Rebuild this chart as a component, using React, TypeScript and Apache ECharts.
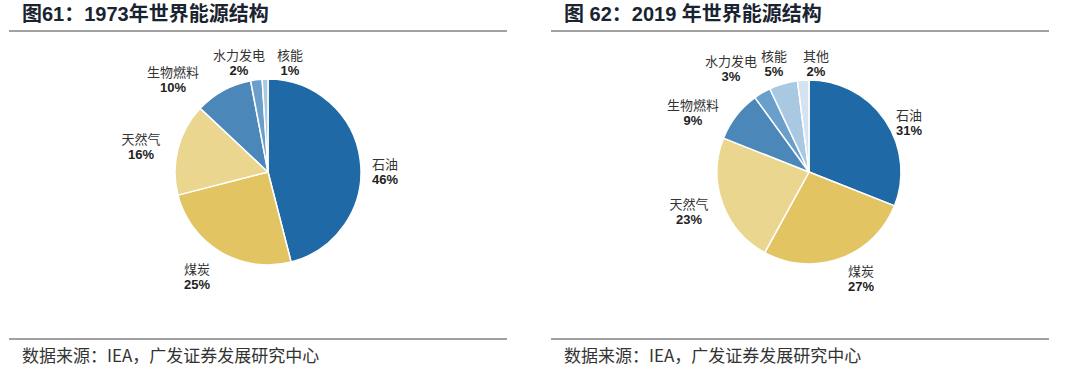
import React, { useEffect, useRef } from "react";
import * as echarts from "echarts";

const names1973 = ["石油", "煤炭", "天然气", "生物燃料", "水力发电", "核能"];
const values1973 = [46, 25, 16, 10, 2, 1];
const names2019 = ["石油", "煤炭", "天然气", "生物燃料", "水力发电", "核能", "其他"];
const values2019 = [31, 27, 23, 9, 3, 5, 2];
const colors = ["#1f6aa6", "#e3c463", "#ead68f", "#4b87b9", "#6b9fcb", "#a9c8e2", "#d5e3f0"];
const titles = ["图61：1973年世界能源结构", "图 62：2019 年世界能源结构"];
const sourceText = "数据来源：IEA，广发证券发展研究中心";

// label anchor positions (layout only), per series, per slice
const labelSpots: number[][][] = [
  [[385, 171], [197, 276], [141, 146], [173, 79], [239, 62], [290, 62]],
  [[909, 122], [861, 278], [689, 211], [693, 112], [731, 68], [774, 63], [816, 63]],
];

function pieSeries(names: string[], values: number[], cx: number, r: number) {
  return {
    type: "pie",
    center: [cx, 172],
    radius: r,
    startAngle: 90,
    clockwise: true,
    avoidLabelOverlap: false,
    itemStyle: { borderColor: "#ffffff", borderWidth: 1.5 },
    label: {
      show: true,
      position: "outside",
      formatter: (p: any) => `{n|${p.name}}\n{p|${p.value}%}`,
      rich: {
        n: { fontFamily: "Noto Sans CJK SC", fontSize: 13, color: "#333", lineHeight: 16, align: "center" },
        p: { fontFamily: "Liberation Sans, Arial", fontWeight: "bold", fontSize: 13, color: "#222", lineHeight: 16, align: "center" },
      },
    },
    labelLine: { show: false, length: 10, length2: 0 },
    labelLayout: (p: any) => {
      const s = labelSpots[p.seriesIndex][p.dataIndex];
      return { x: s[0], y: s[1], align: "center", verticalAlign: "middle", hideOverlap: false };
    },
    data: names.map((n, i) => ({ name: n, value: values[i], itemStyle: { color: colors[i] } })),
  };
}

export default function App() {
  const ref = useRef<HTMLDivElement>(null);
  useEffect(() => {
    document.body.style.margin = "0";
    const chart = echarts.init(ref.current!, undefined, { renderer: "svg" });
    const graphics: any[] = [];
    [0, 542].forEach((ox, i) => {
      graphics.push({
        type: "text",
        left: 22 + ox,
        top: 4,
        style: { text: titles[i], fontFamily: "Liberation Sans, Noto Sans CJK SC", fontWeight: "bold", fontSize: 20, fill: "#1a2430" },
      });
      graphics.push({ type: "line", shape: { x1: 9 + ox, y1: 31, x2: 507 + ox, y2: 31 }, style: { stroke: "#444", lineWidth: 1.2 } });
      graphics.push({ type: "line", shape: { x1: 9 + ox, y1: 339, x2: 507 + ox, y2: 339 }, style: { stroke: "#444", lineWidth: 1.2 } });
      graphics.push({
        type: "text",
        left: 22 + ox,
        top: 346,
        style: { text: sourceText, fontFamily: "Noto Sans CJK SC", fontSize: 17, fill: "#333" },
      });
    });
    chart.setOption({
      animation: false,
      backgroundColor: "#ffffff",
      graphic: graphics,
      series: [pieSeries(names1973, values1973, 268, 93), pieSeries(names2019, values2019, 809, 92)],
    });
    return () => chart.dispose();
  }, []);
  return <div ref={ref} style={{ width: 1080, height: 371 }} />;
}
